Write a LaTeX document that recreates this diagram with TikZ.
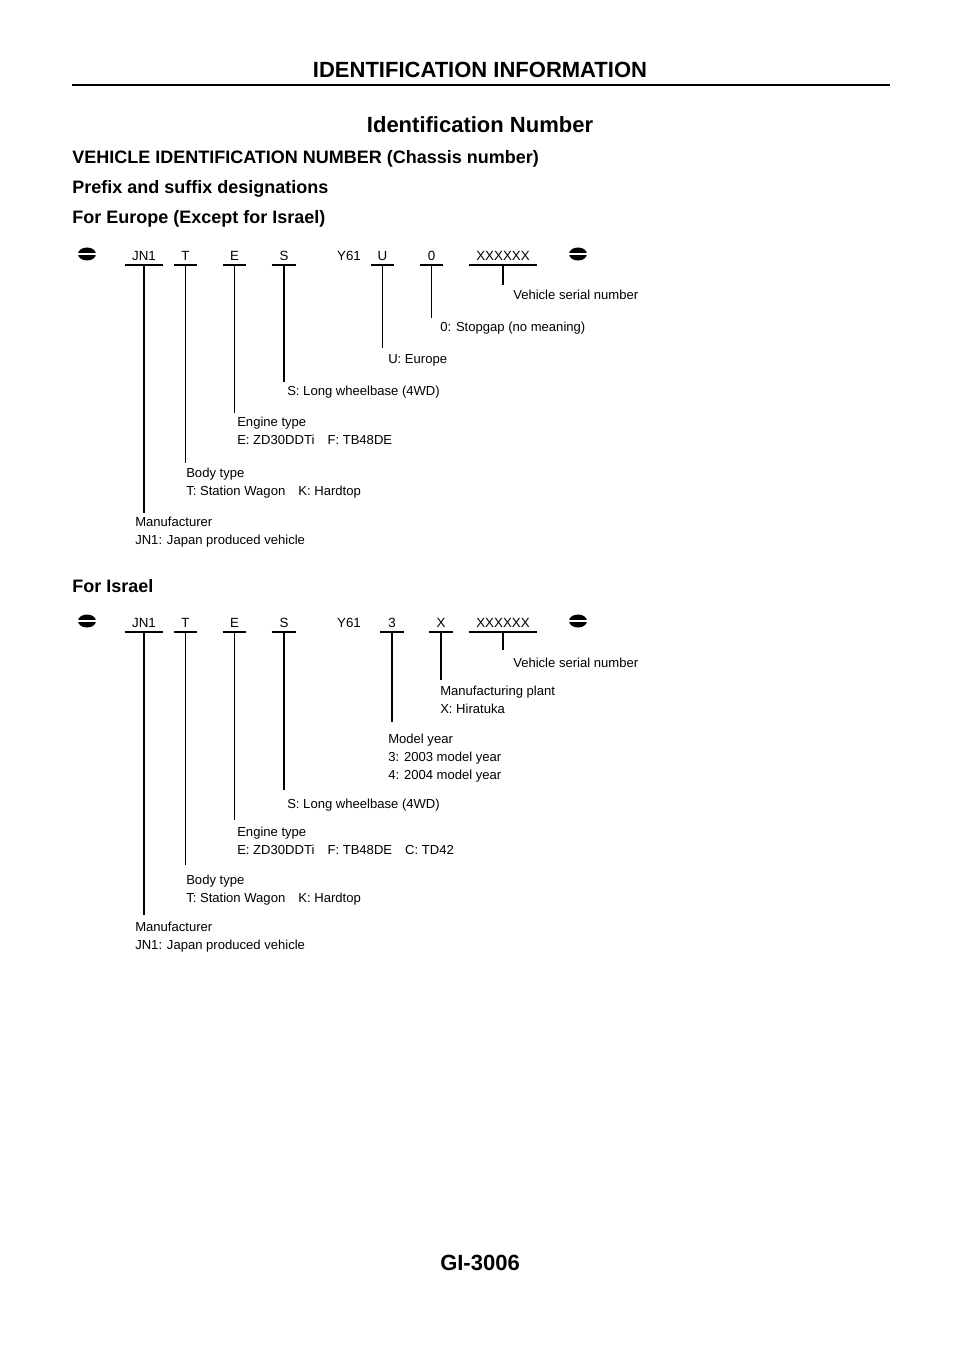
\documentclass[tikz,border=0pt]{standalone}
\usepackage{fontspec}
\setmainfont{Liberation Sans}
\usetikzlibrary{positioning}
\tikzset{
  code/.style={anchor=south,inner xsep=0pt,inner ysep=3pt,text height=7.2pt,text depth=0pt,font=\fontsize{10}{12}\selectfont},
  lab/.style={anchor=north west,inner sep=0pt,align=left,font=\fontsize{9.8}{13.5}\selectfont},
  stem/.style={line width=0.8pt},
  head/.style={anchor=base west,inner sep=0pt,font=\bfseries\fontsize{13.5}{16}\selectfont},
}
\newcommand{\stampmark}[1]{%
  \fill (#1) ellipse [x radius=9,y radius=6.5];
  \draw[white,line width=1.6pt] ($(#1)+(-10,0)$) -- ($(#1)+(10,0)$);}
\usetikzlibrary{calc}
\begin{document}
\begin{tikzpicture}[x=0.75pt,y=-0.75pt]
\useasboundingbox (0,0) rectangle (960,1358);
% header and footer
\node[font=\bfseries\fontsize{16.5}{18}\selectfont] (top) at (480,70) {IDENTIFICATION INFORMATION};
\draw[line width=2.2pt] (72,85) coordinate (rl) -- (890,85) coordinate (rr);
\node[font=\bfseries\fontsize{16.5}{18}\selectfont] (title) at (480,125) {Identification Number};
\node[head] (h1) at (72,164) {VEHICLE IDENTIFICATION NUMBER (Chassis number)};
\node[head] (h2) at (72,194) {Prefix and suffix designations};
\node[head] (h3) at (72,224) {For Europe (Except for Israel)};
\node[head] (h4) at (72,592) {For Israel};
\node[font=\bfseries\fontsize{16.5}{18}\selectfont] (foot) at (480,1263) {GI-3006};

% Europe
\stampmark{87,254}
\stampmark{578,254}
\foreach \nm/\x/\w/\t in {eJ/144/38/JN1, eT/185.5/23/T, eE/234.5/23/E, eS/284/24/S, eU/382.5/23/U, eZ/431.5/23/0, eX/503/68/XXXXXX}
  \node[code,minimum width=\w*0.75pt] (\nm) at (\x,265) {\t};
\node[code] (eY) at (349,265) {Y61};
\foreach \nm in {eJ,eT,eE,eS,eU,eZ,eX}
  \draw[stem] (\nm.south west) -- (\nm.south east);
\node[lab] (lX) at (513,290) {Vehicle serial number};
\node[lab] (lZ) at (440,322) {0: Stopgap (no meaning)};
\node[lab] (lU) at (388,354) {U: Europe};
\node[lab] (lS) at (287,386) {S: Long wheelbase (4WD)};
\node[lab] (lE) at (237,417) {Engine type\\E: ZD30DDTi\quad F: TB48DE};
\node[lab] (lT) at (186,468) {Body type\\T: Station Wagon\quad K: Hardtop};
\node[lab] (lJ) at (135,517) {Manufacturer\\JN1: Japan produced vehicle};
\foreach \nm/\e in {eX/285,eZ/318,eU/348,eS/382,eE/413,eT/463,eJ/513}
  \draw[stem] (\nm.south) -- (\nm.south |- 0,\e);

% Israel
\stampmark{87,621}
\stampmark{578,621}
\foreach \nm/\x/\w/\t in {iJ/144/38/JN1, iT/185.5/23/T, iE/234.5/23/E, iS/284/24/S, iM/392/23/3, iP/441/23/X, iX/503/68/XXXXXX}
  \node[code,minimum width=\w*0.75pt] (\nm) at (\x,632) {\t};
\node[code] (iY) at (349,632) {Y61};
\foreach \nm in {iJ,iT,iE,iS,iM,iP,iX}
  \draw[stem] (\nm.south west) -- (\nm.south east);
\node[lab] (mX) at (513,658) {Vehicle serial number};
\node[lab] (mP) at (440,686) {Manufacturing plant\\X: Hiratuka};
\node[lab] (mM) at (388,734) {Model year\\3: 2003 model year\\4: 2004 model year};
\node[lab] (mS) at (287,799) {S: Long wheelbase (4WD)};
\node[lab] (mE) at (237,827) {Engine type\\E: ZD30DDTi\quad F: TB48DE\quad C: TD42};
\node[lab] (mT) at (186,875) {Body type\\T: Station Wagon\quad K: Hardtop};
\node[lab] (mJ) at (135,922) {Manufacturer\\JN1: Japan produced vehicle};
\foreach \nm/\e in {iX/650,iP/680,iM/722,iS/790,iE/820,iT/865,iJ/915}
  \draw[stem] (\nm.south) -- (\nm.south |- 0,\e);
\end{tikzpicture}
\end{document}
